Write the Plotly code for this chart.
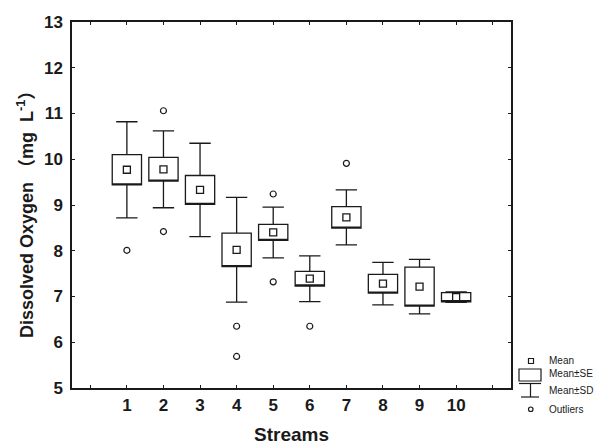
import plotly.graph_objects as go

# ---- data ----
streams = [1, 2, 3, 4, 5, 6, 7, 8, 9, 10]
stream_labels = ["1", "2", "3", "4", "5", "6", "7", "8", "9", "10"]
means = [9.77, 9.78, 9.33, 8.02, 8.40, 7.39, 8.73, 7.28, 7.215, 6.985]
se = [0.33, 0.26, 0.315, 0.365, 0.175, 0.16, 0.235, 0.205, 0.425, 0.10]
sd = [1.05, 0.84, 1.02, 1.145, 0.555, 0.50, 0.60, 0.465, 0.595, 0.115]
outlier_x = [1, 2, 2, 4, 4, 5, 5, 6, 7]
outlier_y = [8.01, 11.06, 8.42, 6.35, 5.69, 9.24, 7.32, 6.35, 9.91]
y_ticks = [5, 6, 7, 8, 9, 10, 11, 12, 13]
legend_labels = ["Mean", "Mean±SE", "Mean±SD", "Outliers"]

FONT = "Liberation Sans, Arial, Noto Sans CJK SC, sans-serif"
INK = "#1a1a1a"

se_lo = [m - s for m, s in zip(means, se)]
se_hi = [m + s for m, s in zip(means, se)]
sd_lo = [m - s for m, s in zip(means, sd)]
sd_hi = [m + s for m, s in zip(means, sd)]

fig = go.Figure()
fig.add_trace(go.Box(
    x=streams, q1=se_lo, median=se_lo, q3=se_hi,
    lowerfence=sd_lo, upperfence=sd_hi,
    width=0.8, whiskerwidth=0.73, boxpoints=False,
    fillcolor="white", line=dict(color=INK, width=1.3),
    showlegend=False, hoverinfo="skip",
))
fig.add_trace(go.Scatter(
    x=streams, y=means, mode="markers",
    marker=dict(symbol="square-open", size=7, color=INK, line=dict(width=1.3)),
    showlegend=False, hoverinfo="skip",
))
fig.add_trace(go.Scatter(
    x=outlier_x, y=outlier_y, mode="markers",
    marker=dict(symbol="circle-open", size=6, color=INK, line=dict(width=1.2)),
    showlegend=False, hoverinfo="skip",
))

# ---- layout geometry (pixels) ----
W, H = 600, 446
L, R, T, B = 72, 511, 22, 388


def px(xp):
    return (xp - L) / (R - L)


def py(yp):
    return (B - yp) / (B - T)


shapes = []
annotations = []
lw = 1.2
# legend icons
shapes.append(dict(type="rect", xref="paper", yref="paper", x0=px(528.5), x1=px(533.5),
                   y0=py(363.5), y1=py(358.5), line=dict(color=INK, width=lw)))
shapes.append(dict(type="rect", xref="paper", yref="paper", x0=px(519), x1=px(541),
                   y0=py(381), y1=py(369), line=dict(color=INK, width=lw)))
shapes.append(dict(type="line", xref="paper", yref="paper", x0=px(519), x1=px(541),
                   y0=py(383.5), y1=py(383.5), line=dict(color=INK, width=lw)))
shapes.append(dict(type="line", xref="paper", yref="paper", x0=px(530.5), x1=px(530.5),
                   y0=py(383.5), y1=py(397), line=dict(color=INK, width=lw)))
shapes.append(dict(type="line", xref="paper", yref="paper", x0=px(521), x1=px(539),
                   y0=py(397), y1=py(397), line=dict(color=INK, width=lw)))
shapes.append(dict(type="circle", xref="paper", yref="paper", x0=px(528.5), x1=px(533),
                   y0=py(411.5), y1=py(407), line=dict(color=INK, width=lw)))
for lab, yy in zip(legend_labels, [360.7, 373, 390.7, 409.3]):
    annotations.append(dict(text=lab, xref="paper", yref="paper", x=px(547), y=py(yy),
                            xanchor="left", yanchor="middle", showarrow=False,
                            font=dict(family=FONT, size=10, color=INK)))

annotations.append(dict(text="Streams", xref="paper", yref="paper", x=0.5, y=py(434.5),
                        xanchor="center", yanchor="middle", showarrow=False,
                        font=dict(family=FONT, size=19, color=INK, weight="bold")))
annotations.append(dict(text="Dissolved Oxygen （mg  L<sup>-1</sup>）", xref="paper", yref="paper",
                        x=px(25), y=py(210), textangle=-90,
                        xanchor="center", yanchor="middle", showarrow=False,
                        font=dict(family=FONT, size=18, color=INK, weight="bold")))

fig.update_layout(
    width=W, height=H,
    margin=dict(l=L, r=W - R, t=T, b=H - B, pad=0),
    paper_bgcolor="white", plot_bgcolor="white",
    shapes=shapes, annotations=annotations,
    showlegend=False,
)
fig.update_xaxes(
    range=[-0.5, 11.5],
    tickvals=[0] + streams + [11], ticktext=[""] + stream_labels + [""],
    ticks="inside", ticklen=3, tickwidth=1, tickcolor=INK,
    showline=True, linecolor=INK, linewidth=1.5, mirror="allticks",
    showgrid=False, zeroline=False,
    tickfont=dict(family=FONT, size=17, color=INK, weight="bold"),
    ticklabelstandoff=1,
)
fig.update_yaxes(
    range=[5, 13], tickvals=y_ticks,
    ticks="inside", ticklen=3, tickwidth=1, tickcolor=INK,
    showline=True, linecolor=INK, linewidth=1.5, mirror="allticks",
    showgrid=False, zeroline=False,
    tickfont=dict(family=FONT, size=17, color=INK, weight="bold"),
    ticklabelstandoff=4,
)

fig.write_html("out.html", config={"displayModeBar": False},
               post_script="document.body.style.margin='0';")
